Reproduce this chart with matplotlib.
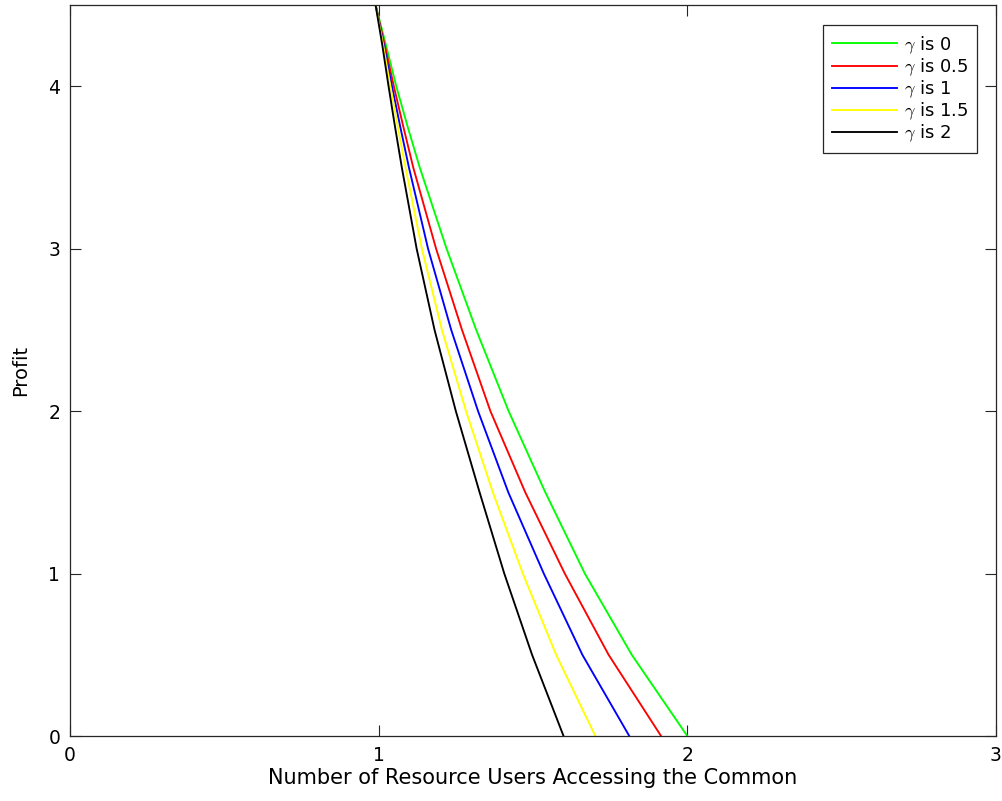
import numpy as np
import matplotlib.pyplot as plt

profit = [4.5, 4.25, 4.0, 3.75, 3.5, 3.0, 2.5, 2.0, 1.5, 1.0, 0.5, 0.0]

# Number of users for each gamma at those profit levels
users_g0 = [0.990, 1.024, 1.057, 1.094, 1.133, 1.220, 1.316, 1.421, 1.540, 1.668, 1.820, 2.000]
users_g05 = [0.990, 1.020, 1.049, 1.080, 1.112, 1.186, 1.270, 1.362, 1.475, 1.603, 1.745, 1.915]
users_g1 = [0.990, 1.017, 1.043, 1.070, 1.098, 1.160, 1.235, 1.322, 1.420, 1.535, 1.660, 1.812]
users_g15 = [0.990, 1.015, 1.038, 1.062, 1.087, 1.140, 1.205, 1.283, 1.370, 1.467, 1.575, 1.702]
users_g2 = [0.990, 1.012, 1.032, 1.053, 1.075, 1.123, 1.181, 1.250, 1.327, 1.407, 1.497, 1.599]

labels = ['0', '0.5', '1', '1.5', '2']
colors = ['#00ff00', '#ff0000', '#0000ff', '#ffff00', '#000000']

plt.rcParams['font.family'] = ['DejaVu Sans']
plt.rcParams['mathtext.fontset'] = 'cm'

fig = plt.figure(figsize=(10.03, 8.01), dpi=100)
ax = fig.add_axes([0.0698, 0.0811, 0.9232, 0.9127])

series = [users_g0, users_g05, users_g1, users_g15, users_g2]
for xs, lab, col in zip(series, labels, colors):
    ax.plot(xs, profit, color=col, linewidth=1.35, label=r'$\gamma$ is ' + lab,
            solid_joinstyle='round')

ax.set_xlim(0, 3)
ax.set_ylim(0, 4.5)
ax.set_xticks([0, 1, 2, 3])
ax.set_yticks([0, 1, 2, 3, 4])
ax.tick_params(direction='in', length=8, width=0.8, top=True, right=True,
               labelsize=13.5, colors='#262626', labelcolor='#000000', pad=7)
for sp in ax.spines.values():
    sp.set_color('#262626')
    sp.set_linewidth(0.9)

ax.set_xlabel('Number of Resource Users Accessing the Common', fontsize=15, labelpad=2.5)
ax.set_ylabel('Profit', fontsize=14, labelpad=13)

leg = ax.legend(loc='upper right', bbox_to_anchor=(0.9795, 0.9726), fontsize=13,
                frameon=True, fancybox=False, edgecolor='#262626', framealpha=1,
                handlelength=3.6, handletextpad=0.35, borderpad=0.5, labelspacing=0.03,
                borderaxespad=0)
leg.get_frame().set_linewidth(0.9)

plt.savefig('out.png', dpi=100)
plt.close()
